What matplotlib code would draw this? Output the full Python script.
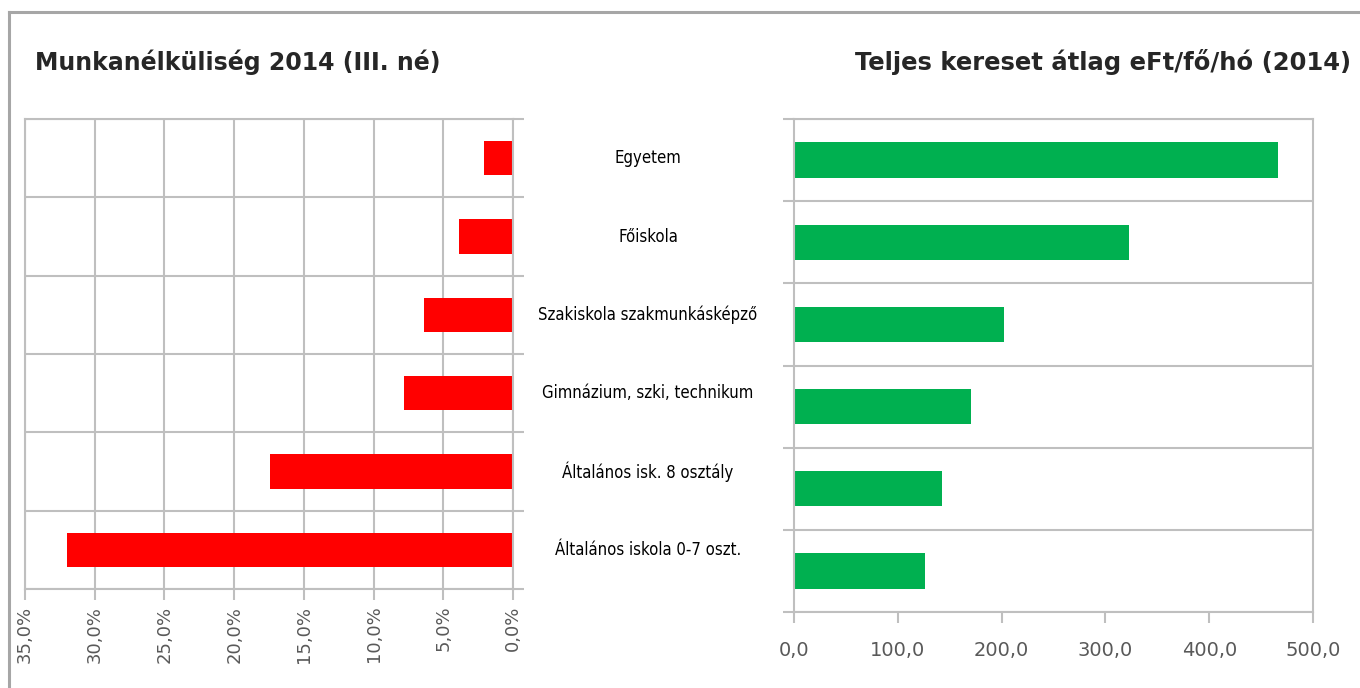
import matplotlib
matplotlib.use('Agg')
import matplotlib.pyplot as plt
from matplotlib.ticker import FuncFormatter, MultipleLocator
from matplotlib.lines import Line2D
from matplotlib.transforms import blended_transform_factory
from matplotlib import font_manager

categories = ['Egyetem', 'Főiskola', 'Szakiskola szakmunkásképző',
              'Gimnázium, szki, technikum', 'Általános isk. 8 osztály',
              'Általános iskola 0-7 oszt.']
unemployment = [2.1, 3.9, 6.4, 7.8, 17.4, 32.0]   # %
earnings = [466.5, 322.7, 202.3, 170.5, 142.6, 126.2]  # eFt/fő/hó

title_left = 'Munkanélküliség 2014 (III. né)'
title_right = 'Teljes kereset átlag eFt/fő/hó (2014)'

GRID = '#BFBFBF'
TICKTXT = '#595959'

# pick a narrow font for the category labels if one is around
fonts = font_manager.fontManager.ttflist
names = {f.name for f in fonts}
if 'Liberation Sans Narrow' in names:
    label_font = dict(family='Liberation Sans Narrow', fontsize=13)
elif any(f.name == 'DejaVu Sans' and f.stretch == 'condensed' for f in fonts):
    label_font = dict(family='DejaVu Sans', fontstretch='condensed', fontsize=12)
else:
    label_font = dict(family='DejaVu Sans', fontsize=11)

fig = plt.figure(figsize=(13.6, 6.88), dpi=100)

# outer frame (only top and left edges visible)
fig.add_artist(Line2D([9 / 1360, 9 / 1360], [0, 1 - 12 / 688], transform=fig.transFigure,
                      color='#A6A6A6', lw=2.2))
fig.add_artist(Line2D([9 / 1360, 1], [1 - 12 / 688, 1 - 12 / 688], transform=fig.transFigure,
                      color='#A6A6A6', lw=2.2))

ypos = list(range(len(categories)))

# ---- left chart: unemployment, reversed x axis
ax1 = fig.add_axes([25 / 1360, 99 / 688, (513 - 25) / 1360, (589 - 119) / 688])
ax1.barh(ypos, unemployment, height=0.44, color='#FF0000')
ax1.set_xlim(35, 0)
ax1.set_ylim(len(categories) - 0.5, -0.5)
ax1.xaxis.set_major_locator(MultipleLocator(5))
ax1.xaxis.set_major_formatter(FuncFormatter(lambda v, p: f'{v:.1f}%'.replace('.', ',')))
ax1.set_yticks([i - 0.5 for i in range(len(categories) + 1)])
ax1.yaxis.tick_right()
ax1.tick_params(axis='y', labelright=False, length=8, width=1.5, color=GRID)
ax1.tick_params(axis='x', length=8, width=1.5, color=GRID, labelsize=13,
                labelcolor=TICKTXT, labelrotation=90, pad=4)
ax1.grid(True, color=GRID, lw=1.5)
ax1.set_axisbelow(True)
for s in ax1.spines.values():
    s.set_color(GRID)
    s.set_linewidth(1.5)

# category labels between the charts
trans = blended_transform_factory(fig.transFigure, ax1.transData)
for i, c in enumerate(categories):
    ax1.text(648 / 1360, i, c, transform=trans, ha='center', va='center',
             color='black', **label_font)

# ---- right chart: earnings
ax2 = fig.add_axes([794 / 1360, 76 / 688, (1313 - 794) / 1360, (612 - 119) / 688])
ax2.barh(ypos, earnings, height=0.43, color='#00B050')
ax2.set_xlim(0, 500)
ax2.set_ylim(len(categories) - 0.5, -0.5)
ax2.xaxis.set_major_locator(MultipleLocator(100))
ax2.xaxis.set_major_formatter(FuncFormatter(lambda v, p: f'{v:.1f}'.replace('.', ',')))
ax2.set_yticks([i - 0.5 for i in range(len(categories) + 1)])
ax2.tick_params(axis='y', labelleft=False, length=8, width=1.5, color=GRID)
ax2.tick_params(axis='x', length=8, width=1.5, color=GRID, labelsize=14,
                labelcolor=TICKTXT, pad=13)
ax2.grid(True, axis='y', color=GRID, lw=1.5)
ax2.set_axisbelow(True)
for s in ax2.spines.values():
    s.set_color(GRID)
    s.set_linewidth(1.5)

fig.text(35 / 1360, 1 - 62 / 688, title_left, ha='left', va='center',
         fontsize=17, fontweight='bold', color='#262626')
fig.text(855 / 1360, 1 - 62 / 688, title_right, ha='left', va='center',
         fontsize=17.5, fontweight='bold', color='#262626')

fig.savefig('out.png', dpi=100, facecolor='white')
